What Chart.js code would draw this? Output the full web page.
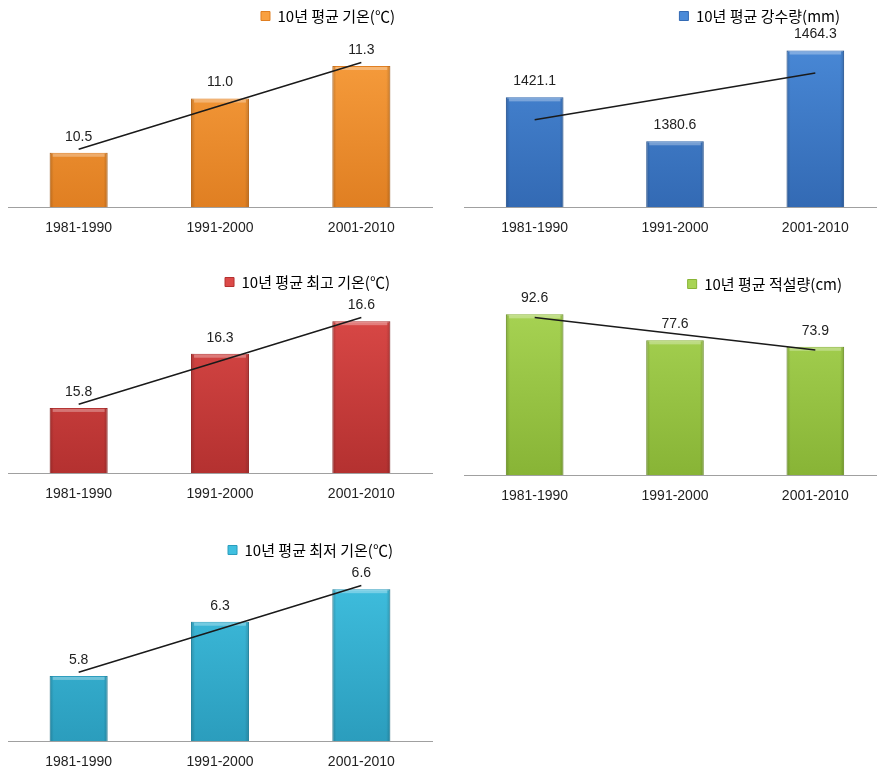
<!DOCTYPE html>
<html>
<head>
<meta charset="utf-8">
<script src="https://cdn.jsdelivr.net/npm/chart.js@4.4.1/dist/chart.umd.min.js"></script>
<style>
  html, body { margin: 0; padding: 0; background: #fff; overflow: hidden; width: 877px; height: 774px; }
  canvas { position: absolute; }
</style>
</head>
<body>
<canvas id="c1" width="440" height="250" style="left:0;top:0"></canvas>
<canvas id="c2" width="450" height="250" style="left:440px;top:0"></canvas>
<canvas id="c3" width="440" height="250" style="left:0;top:266px"></canvas>
<canvas id="c4" width="450" height="250" style="left:440px;top:268px"></canvas>
<canvas id="c5" width="440" height="250" style="left:0;top:534px"></canvas>
<script>
var periods = ["1981-1990", "1991-2000", "2001-2010"];
var avgTemp = [10.5, 11.0, 11.3];
var rainfall = [1421.1, 1380.6, 1464.3];
var maxTemp = [15.8, 16.3, 16.6];
var snowfall = [92.6, 77.6, 73.9];
var minTemp = [5.8, 6.3, 6.6];

var FONT = '"Noto Sans CJK KR", "Liberation Sans", Arial, sans-serif';

// least squares trend line, like excel's linear trendline
function trend(values) {
	var n = values.length, sx = 0, sy = 0, sxy = 0, sxx = 0;
	values.forEach(function (v, i) {
		sx += i; sy += v; sxy += i * v; sxx += i * i;
	});
	var b = (n * sxy - sx * sy) / (n * sxx - sx * sx);
	var a = (sy - b * sx) / n;
	return values.map(function (v, i) { return a + b * i; });
}

// soft bevel on the bars (darker sides, light top strip)
var bevel = {
	id: "bevel",
	afterDatasetDraw: function (chart, args) {
		if (args.index !== 0) return;
		var ctx = chart.ctx;
		var area = chart.chartArea;
		ctx.save();
		ctx.beginPath();
		ctx.rect(area.left, area.top, area.right - area.left, area.bottom - area.top);
		ctx.clip();
		args.meta.data.forEach(function (bar) {
			var p = bar.getProps(["x", "y", "width"], true);
			var l = p.x - p.width / 2, w = p.width, h = area.bottom - p.y;
			var g = ctx.createLinearGradient(l, 0, l + w, 0);
			g.addColorStop(0, "rgba(0,0,0,0.18)");
			g.addColorStop(0.07, "rgba(0,0,0,0)");
			g.addColorStop(0.93, "rgba(0,0,0,0)");
			g.addColorStop(1, "rgba(0,0,0,0.18)");
			ctx.fillStyle = g;
			ctx.fillRect(l, p.y, w, h);
			ctx.fillStyle = "rgba(255,255,255,0.3)";
			ctx.fillRect(l + 3, p.y + 1, w - 6, 3);
		});
		ctx.restore();
	}
};

var valueLabels = {
	id: "valueLabels",
	afterDatasetsDraw: function (chart) {
		var ctx = chart.ctx;
		var meta = chart.getDatasetMeta(0);
		ctx.save();
		ctx.font = "14px 'Liberation Sans', Arial, sans-serif";
		ctx.fillStyle = "#222";
		ctx.textAlign = "center";
		ctx.textBaseline = "middle";
		meta.data.forEach(function (bar, i) {
			var v = chart.data.datasets[0].data[i];
			ctx.fillText(v.toFixed(1), bar.x, bar.y - 16);
		});
		ctx.restore();
	}
};

// move the legend so its text ends where the reference has it
var legendSpot = {
	id: "legendSpot",
	afterLayout: function (chart, args, opts) {
		if (opts.right) {
			chart.legend.right = opts.right + chart.options.plugins.legend.labels.padding;
		}
	}
};

function makeChart(id, label, values, light, dark, yMin, yMax, legendRight, padL, padR) {
	var ctx = document.getElementById(id);
	return new Chart(ctx, {
		type: "bar",
		data: {
			labels: periods,
			datasets: [{
				label: label,
				data: values,
				order: 1,
				backgroundColor: function (c) {
					var area = c.chart.chartArea;
					if (!area) return light;
					var g = c.chart.ctx.createLinearGradient(0, area.top, 0, area.bottom);
					g.addColorStop(0, light);
					g.addColorStop(1, dark);
					return g;
				},
				borderColor: dark,
				borderWidth: 1,
				categoryPercentage: 1,
				barPercentage: 0.41
			}, {
				type: "line",
				label: "trend",
				data: trend(values),
				order: 0,
				borderColor: "#1a1a1a",
				borderWidth: 1.5,
				pointRadius: 0,
				fill: false,
				tension: 0
			}]
		},
		options: {
			responsive: false,
			animation: false,
			layout: { padding: { top: 4.5, left: padL, right: padR, bottom: 13 } },
			plugins: {
				legend: {
					display: true,
					position: "top",
					align: "end",
					labels: {
						boxWidth: 9,
						boxHeight: 9,
						padding: 4,
						color: "#333",
						font: { family: FONT, size: 15 },
						generateLabels: function (chart) {
							return [{ text: label, fillStyle: light, strokeStyle: dark, lineWidth: 1, datasetIndex: 0 }];
						}
					}
				},
				tooltip: { enabled: false },
				legendSpot: { right: legendRight }
			},
			scales: {
				x: {
					grid: { display: false, drawTicks: false },
					border: { display: true, color: "#a0a0a0", width: 1 },
					ticks: { color: "#222", padding: 13, font: { family: "'Liberation Sans', Arial, sans-serif", size: 14 } },
					afterFit: function (scale) { scale.height = 30; }
				},
				y: {
					display: false,
					min: yMin,
					max: yMax
				}
			}
		},
		plugins: [bevel, valueLabels, legendSpot]
	});
}

makeChart("c1", "10년 평균 기온(℃)", avgTemp, "#f9a040", "#e07f22", 10, 11.6, 395, 8, 8);
makeChart("c2", "10년 평균 강수량(mm)", rainfall, "#4a8ad8", "#336ab4", 1320, 1480, 400, 24.5, 4.5);
makeChart("c3", "10년 평균 최고 기온(℃)", maxTemp, "#dc4a48", "#b43130", 15.2, 16.8, 390, 8, 8);
makeChart("c4", "10년 평균 적설량(cm)", snowfall, "#a8d454", "#88b436", 0, 100, 402, 24.5, 4.5);
makeChart("c5", "10년 평균 최저 기온(℃)", minTemp, "#40c0e0", "#2b9dbd", 5.2, 6.8, 393, 8, 8);
</script>
</body>
</html>
